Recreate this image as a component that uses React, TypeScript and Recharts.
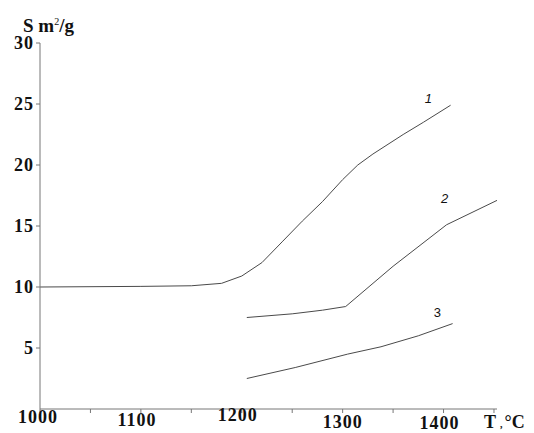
import React from "react";
import { LineChart, Line, XAxis, YAxis, ReferenceDot } from "recharts";

// curve 1
const temp1 = [1000, 1100, 1150, 1180, 1200, 1220, 1240, 1260, 1280, 1300, 1315, 1330, 1360, 1380, 1407];
const area1 = [10, 10.05, 10.1, 10.3, 10.9, 12, 13.7, 15.4, 17, 18.8, 20.0, 20.9, 22.5, 23.5, 24.9];

// curve 2
const temp2 = [1205, 1250, 1280, 1303, 1350, 1403, 1453];
const area2 = [7.5, 7.8, 8.1, 8.4, 11.7, 15.1, 17.1];

// curve 3
const temp3 = [1205, 1253, 1305, 1338, 1375, 1409];
const area3 = [2.5, 3.4, 4.5, 5.1, 6.0, 7.0];

const curveNames = ["1", "2", "3"];
const labelT = [1385, 1401, 1394];
const labelS = [25.5, 17.3, 7.95];

const xTicks = [1000, 1050, 1100, 1150, 1200, 1250, 1300, 1350, 1400, 1450];
const xTickLabels: Record<number, string> = {
  1000: "1000",
  1100: "1100",
  1200: "1200",
  1300: "1300",
  1400: "1400",
};
const yTicks = [5, 10, 15, 20, 25, 30];

// the scan's tick labels sit a bit unevenly
const xLabelShift: Record<number, [number, number]> = {
  1000: [-2, 8],
  1100: [-4, 11],
  1200: [-4, 6],
  1300: [0, 13],
  1400: [-4, 14],
};

const toRows = (t: number[], s: number[]) => t.map((v, i) => ({ t: v, s: s[i] }));
const series = [toRows(temp1, area1), toRows(temp2, area2), toRows(temp3, area3)];

const serif = "'Liberation Serif', 'Times New Roman', serif";
const axisColor = "#777";
const lineColor = "#4a4a4a";

const XTick = (props: any) => {
  const { x, y, payload } = props;
  const v = payload.value as number;
  if (v === 1450) {
    return (
      <text x={x - 10} y={y + 13} fontFamily={serif} fontWeight="bold" fontSize={18} fill="#111">
        T<tspan dx={4} fontSize={10}>,</tspan>
        <tspan dx={2}>°C</tspan>
      </text>
    );
  }
  const label = xTickLabels[v];
  if (!label) return null;
  const [dx, dy] = xLabelShift[v];
  return (
    <text
      x={x + dx}
      y={y + dy}
      textAnchor="middle"
      fontFamily={serif}
      fontWeight="bold"
      fontSize={18}
      letterSpacing={1}
      fill="#111"
    >
      {label}
    </text>
  );
};

const CurveLabel = (name: string, italic: boolean) => (props: any) => {
  const { viewBox } = props;
  return (
    <text
      x={viewBox.x}
      y={viewBox.y + 5}
      textAnchor="middle"
      fontFamily="'Liberation Sans', Arial, sans-serif"
      fontStyle={italic ? "italic" : "normal"}
      fontSize={13}
      fill="#111"
    >
      {name}
    </text>
  );
};

export default function App() {
  return (
    <div style={{ position: "absolute", left: 0, top: 0, width: 534, height: 433, background: "#fff" }}>
      <div
        style={{
          position: "absolute",
          left: 23,
          top: 15,
          fontFamily: serif,
          fontWeight: "bold",
          fontSize: 19,
          color: "#111",
          whiteSpace: "nowrap",
        }}
      >
        S m<sup style={{ fontSize: 10, fontWeight: "normal" }}>2</sup>/g
      </div>
      <LineChart width={534} height={433} margin={{ top: 43, right: 37, bottom: 0, left: 0 }}>
        <XAxis
          type="number"
          dataKey="t"
          domain={[1000, 1450]}
          ticks={xTicks}
          interval={0}
          allowDuplicatedCategory={false}
          height={24}
          tickSize={4}
          tickMargin={2}
          stroke={axisColor}
          tick={<XTick />}
        />
        <YAxis
          type="number"
          dataKey="s"
          domain={[0, 30]}
          ticks={yTicks}
          interval={0}
          width={40}
          tickSize={4}
          tickMargin={2}
          stroke={axisColor}
          tick={{ fontFamily: serif, fontWeight: "bold", fontSize: 18, fill: "#111", letterSpacing: 1 }}
        />
        {series.map((rows, i) => (
          <Line
            key={curveNames[i]}
            data={rows}
            dataKey="s"
            type="linear"
            stroke={lineColor}
            strokeWidth={1}
            dot={false}
            isAnimationActive={false}
          />
        ))}
        {curveNames.map((name, i) => (
          <ReferenceDot
            key={"lbl" + name}
            x={labelT[i]}
            y={labelS[i]}
            r={0}
            fill="none"
            stroke="none"
            label={CurveLabel(name, i < 2)}
          />
        ))}
      </LineChart>
    </div>
  );
}
